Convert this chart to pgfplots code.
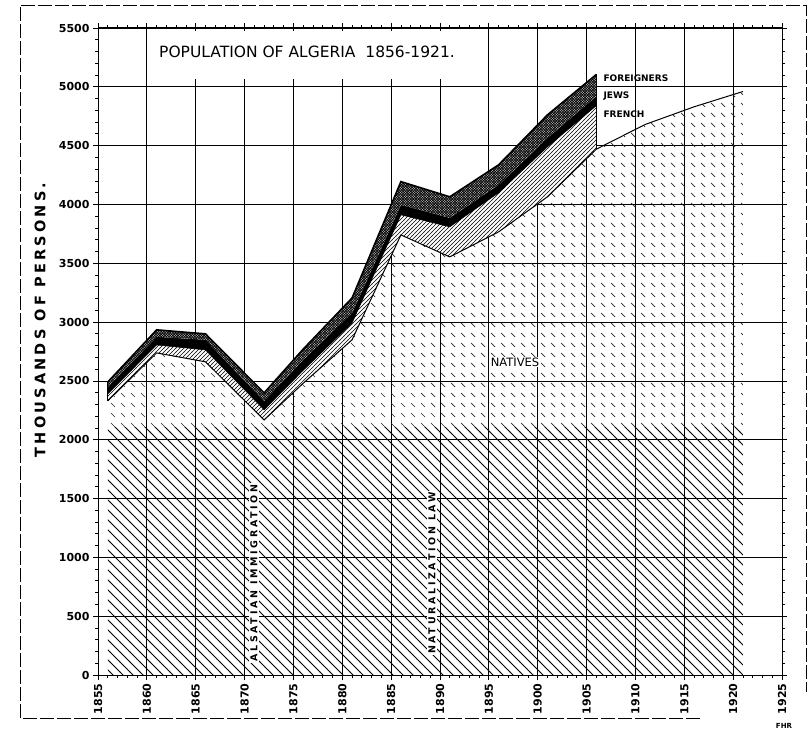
\documentclass[border=0pt]{standalone}
\usepackage{fontspec}
\setmainfont{DejaVu Sans}
\usepackage{pgfplots}
\usepackage{pgfplotstable}
\pgfplotsset{compat=1.18}
\usepgfplotslibrary{fillbetween}
\usetikzlibrary{patterns}

% hatchings
\pgfdeclarepatternformonly{natdense}{\pgfqpoint{-1pt}{-1pt}}{\pgfqpoint{11pt}{11pt}}{\pgfqpoint{10pt}{10pt}}{%
  \pgfsetlinewidth{0.8pt}\pgfpathmoveto{\pgfqpoint{-0.1pt}{10.1pt}}\pgfpathlineto{\pgfqpoint{10.1pt}{-0.1pt}}\pgfusepath{stroke}}
\pgfdeclarepatternformonly{natlight}{\pgfqpoint{-1pt}{-1pt}}{\pgfqpoint{11pt}{11pt}}{\pgfqpoint{10pt}{10pt}}{%
  \pgfsetlinewidth{0.7pt}\pgfpathmoveto{\pgfqpoint{1pt}{9pt}}\pgfpathlineto{\pgfqpoint{5pt}{5pt}}\pgfusepath{stroke}}
\pgfdeclarepatternformonly{frenchfine}{\pgfqpoint{-1pt}{-1pt}}{\pgfqpoint{5pt}{5pt}}{\pgfqpoint{4pt}{4pt}}{%
  \pgfsetlinewidth{0.5pt}\pgfpathmoveto{\pgfqpoint{-0.1pt}{-0.1pt}}\pgfpathlineto{\pgfqpoint{4.1pt}{4.1pt}}\pgfusepath{stroke}}
\pgfdeclarepatternformonly{foreigncross}{\pgfqpoint{-1pt}{-1pt}}{\pgfqpoint{3.6pt}{3.6pt}}{\pgfqpoint{2.6pt}{2.6pt}}{%
  \pgfsetlinewidth{0.6pt}\pgfpathmoveto{\pgfqpoint{-0.1pt}{-0.1pt}}\pgfpathlineto{\pgfqpoint{2.7pt}{2.7pt}}%
  \pgfpathmoveto{\pgfqpoint{-0.1pt}{2.7pt}}\pgfpathlineto{\pgfqpoint{2.7pt}{-0.1pt}}\pgfusepath{stroke}}

% upper edge of each layer, thousands of persons
\pgfplotstableread{
year N    Fr   J    F
1856 2330 2390 2450 2491
1861 2738 2806 2875 2934
1866 2662 2764 2850 2900
1872 2168 2255 2330 2398
1876 2480 2590 2680 2770
1881 2849 2993 3078 3205
1886 3741 3912 3997 4194
1891 3554 3810 3886 4065
1896 3767 4100 4167 4337
1901 4065 4490 4566 4762
1906 4470 4840 4920 5105
}\europeans

\pgfplotstableread{
year N
1856 2330
1861 2738
1866 2662
1872 2168
1876 2480
1881 2849
1886 3741
1891 3554
1896 3767
1901 4065
1906 4470
1911 4680
1916 4830
1921 4960
}\natives

\newcommand{\spaced}[1]{\addfontfeature{LetterSpace=#1}}

\begin{document}
\begin{tikzpicture}
\begin{axis}[
    at={(98pt,57pt)}, anchor=south west,
    scale only axis,
    width=684pt, height=647pt,
    xmin=1855, xmax=1925, ymin=0, ymax=5500,
    xtick distance=5, ytick distance=500,
    minor x tick num=4, minor y tick num=4,
    tick align=outside,
    major tick length=5pt, minor tick length=3pt,
    grid=major,
    major grid style={black, line width=0.8pt},
    axis line style={line width=1pt},
    every tick/.style={black, line width=0.8pt},
    /pgf/number format/assume math mode=true,
    /pgf/number format/1000 sep={},
    ticklabel style={font=\fontsize{11}{12}\selectfont\bfseries},
    x tick label style={rotate=90, anchor=east},
]
% natives: dense hatching low down, lighter above
\addplot[draw=none, pattern=natdense, pattern color=black]
  coordinates {(1856,2100) (1921,2100)} \closedcycle;
\addplot[name path=nat, draw=none] table[x=year, y=N] {\natives};
\addplot[name path=base, draw=none] coordinates {(1856,2100) (1921,2100)};
\addplot[pattern=natlight, pattern color=black!85]
  fill between[of=nat and base];

% european layers
\addplot[name path=pN, draw=none] table[x=year, y=N] {\europeans};
\addplot[name path=pFr, draw=none] table[x=year, y=Fr] {\europeans};
\addplot[name path=pJ, draw=none] table[x=year, y=J] {\europeans};
\addplot[name path=pF, draw=none] table[x=year, y=F] {\europeans};
\addplot[fill=white] fill between[of=pF and pN];
\addplot[pattern=frenchfine, pattern color=black] fill between[of=pFr and pN];
\addplot[fill=black] fill between[of=pJ and pFr];
\addplot[fill=black!25] fill between[of=pF and pJ];
\addplot[pattern=foreigncross, pattern color=black] fill between[of=pF and pJ];

% outlines
\addplot[black, line width=1pt] table[x=year, y=N] {\natives};
\addplot[black, line width=0.6pt] table[x=year, y=Fr] {\europeans};
\addplot[black, line width=1.6pt] table[x=year, y=F] {\europeans};
\addplot[black, line width=0.8pt] coordinates {(1856,2330) (1856,2491)};
\addplot[black, line width=0.8pt] coordinates {(1906,4470) (1906,5105)};
\end{axis}

% title panel
\node[fill=white, minimum width=336pt, minimum height=48pt, inner sep=0pt] at (318pt,677pt) {};
\node[font=\fontsize{15.5}{18}\selectfont] at (307pt,680pt) {POPULATION OF ALGERIA\ \ 1856-1921.};

% labels
\node[rotate=90, font=\fontsize{14.5}{16}\selectfont\bfseries\spaced{22}] at (40pt,412pt) {THOUSANDS OF PERSONS.};
\node[anchor=west, font=\fontsize{9}{10}\selectfont\bfseries] at (600pt,654pt) {FOREIGNERS};
\node[anchor=west, font=\fontsize{9}{10}\selectfont\bfseries] at (600pt,636pt) {JEWS};
\node[anchor=west, font=\fontsize{9}{10}\selectfont\bfseries] at (600pt,618pt) {FRENCH};
\node[fill=white, inner sep=1pt, font=\fontsize{11.5}{12}\selectfont] at (515pt,370pt) {NATIVES};
\node[rotate=90, fill=white, inner sep=1pt, font=\fontsize{9.5}{10}\selectfont\bfseries\spaced{28}] at (254pt,159pt) {ALSATIAN IMMIGRATION};
\node[rotate=90, fill=white, inner sep=1pt, font=\fontsize{9.5}{10}\selectfont\bfseries\spaced{28}] at (432pt,159pt) {NATURALIZATION LAW};
\node[font=\fontsize{7}{8}\selectfont\bfseries] at (784pt,6pt) {FHR};

% sheet border
\draw[dash pattern=on 14pt off 3pt, line width=0.8pt]
  (700pt,14pt) -- (20pt,14pt) -- (20pt,727pt) -- (806pt,727pt) -- (806pt,40pt);

\pgfresetboundingbox
\useasboundingbox (0,0) rectangle (809pt,732pt);
\end{tikzpicture}
\end{document}
